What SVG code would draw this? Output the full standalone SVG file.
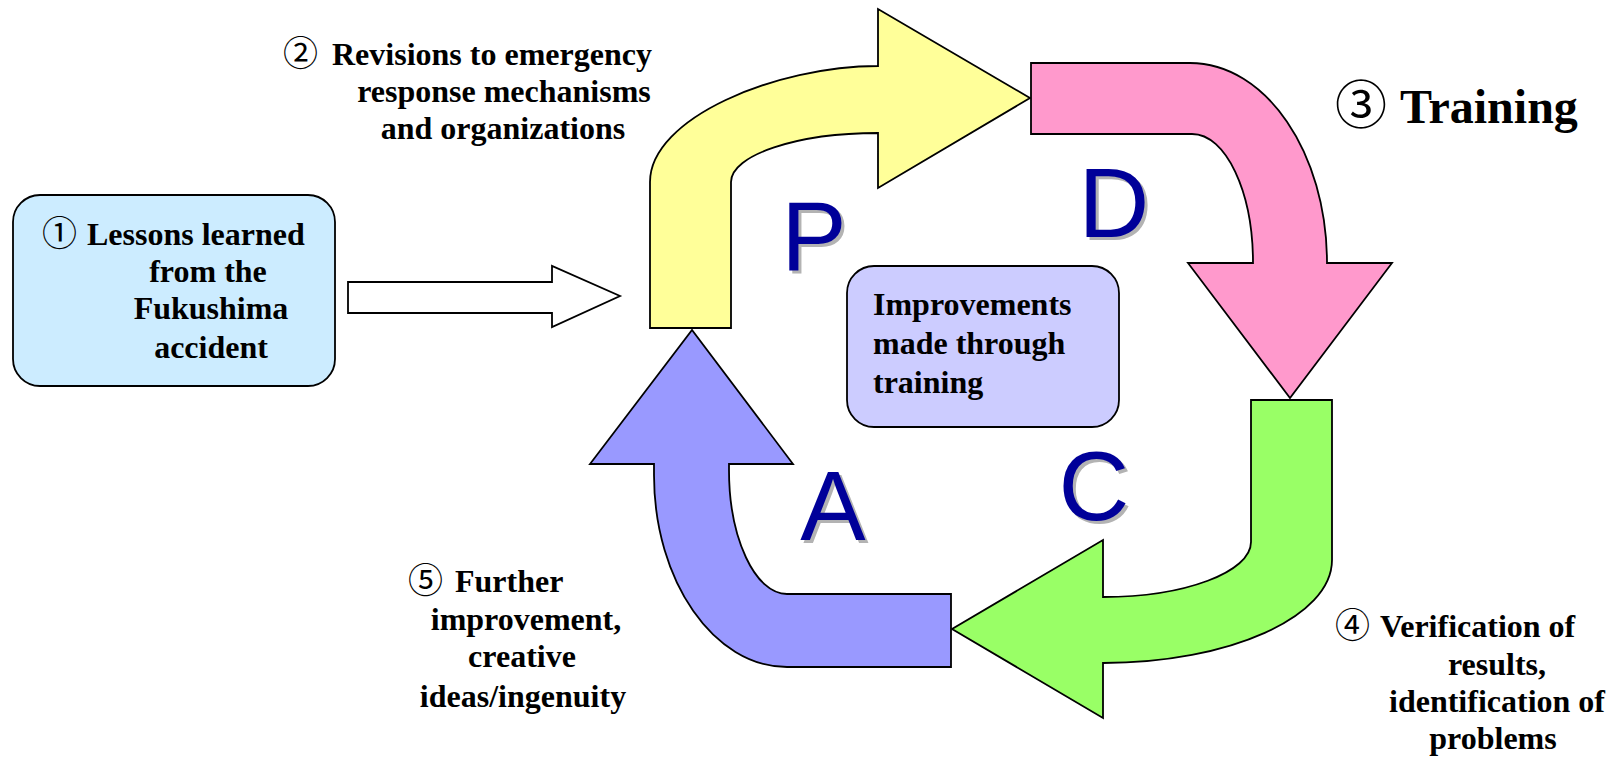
<svg xmlns="http://www.w3.org/2000/svg" width="1612" height="759" viewBox="0 0 1612 759">
<style>
.t{font-family:"Liberation Serif","Times New Roman",serif;font-weight:bold;font-size:32px;fill:#000}
.n{font-family:"Noto Sans CJK JP","Noto Sans",sans-serif;font-weight:normal;font-size:35px;fill:#000}
.big{font-size:48px}
.nbig{font-size:52px}
.ltr{font-family:"Liberation Sans",Arial,sans-serif;font-size:98px;text-anchor:middle;fill:#000099}
.sh{fill:#b3b3b3}
.arr{stroke:#000;stroke-width:1.8;stroke-linejoin:miter}
.box{stroke:#000;stroke-width:1.8}
.c{text-anchor:middle}
</style>
<rect width="1612" height="759" fill="#fff"/>
<g id="connectors">
<path id="arrow-in" class="arr" fill="#fff" d="M348,282 L552,282 L552,266 L620,296 L552,327 L552,313 L348,313 Z"/>
</g>
<g id="node-lessons">
<rect class="box" x="13" y="195" width="322" height="191" rx="27" fill="#ccecff"/>
<text class="n" x="42" y="246">①</text>
<text class="t" x="87" y="245">Lessons learned</text>
<text class="t c" x="208" y="282">from the</text>
<text class="t c" x="211" y="319">Fukushima</text>
<text class="t c" x="211" y="358">accident</text>
</g>
<g id="node-P">
<path class="arr" fill="#ffff99" d="M650,328 L650,182 C650,118 776,66 878,66 L878,9 L1030,98 L878,188 L878,133 C797,133 731,155 731,182 L731,328 Z"/>
<text class="ltr sh" x="817" y="273">P</text>
<text class="ltr" x="814" y="270">P</text>
</g>
<g id="node-D">
<path class="arr" fill="#ff99cc" d="M1031,63 L1190,63 C1266,63 1327,153 1327,263 L1392,263 L1290,398 L1188,263 L1253,263 C1253,192 1226,134 1192,134 L1031,134 Z"/>
<text class="ltr sh" x="1117" y="240">D</text>
<text class="ltr" x="1114" y="237">D</text>
</g>
<g id="node-C">
<path class="arr" fill="#99ff66" d="M1251,400 L1332,400 L1332,560 C1332,617 1229,663 1103,663 L1103,718 L952,629 L1103,540 L1103,597 C1185,597 1251,572 1251,542 Z"/>
<text class="ltr sh" x="1097" y="523">C</text>
<text class="ltr" x="1094" y="520">C</text>
</g>
<g id="node-A">
<path class="arr" fill="#9999ff" d="M951,594 L787,594 C755,594 729,538 729,470 L729,464 L793,464 L692,330 L590,464 L654,464 L654,475 C654,581 714,667 787,667 L951,667 Z"/>
<text class="ltr sh" x="836" y="543">A</text>
<text class="ltr" x="833" y="540">A</text>
</g>
<g id="node-center">
<rect class="box" x="847" y="266" width="272" height="161" rx="27" fill="#ccccff"/>
<text class="t" x="873" y="315">Improvements</text>
<text class="t" x="873" y="354">made through</text>
<text class="t" x="873" y="393">training</text>
</g>
<g id="label-2">
<text class="n" x="283" y="66">②</text>
<text class="t" x="332" y="65">Revisions to emergency</text>
<text class="t c" x="504" y="102">response mechanisms</text>
<text class="t c" x="503" y="139">and organizations</text>
</g>
<g id="label-3">
<text class="n nbig" x="1335" y="124">③</text>
<text class="t big" x="1400" y="123">Training</text>
</g>
<g id="label-4">
<text class="n" x="1335" y="638">④</text>
<text class="t" x="1380" y="637">Verification of</text>
<text class="t c" x="1497" y="675">results,</text>
<text class="t c" x="1497" y="712">identification of</text>
<text class="t c" x="1493" y="749">problems</text>
</g>
<g id="label-5">
<text class="n" x="408" y="593">⑤</text>
<text class="t" x="455" y="592">Further</text>
<text class="t c" x="526" y="630">improvement,</text>
<text class="t c" x="522" y="667">creative</text>
<text class="t c" x="523" y="707">ideas/ingenuity</text>
</g>
</svg>
